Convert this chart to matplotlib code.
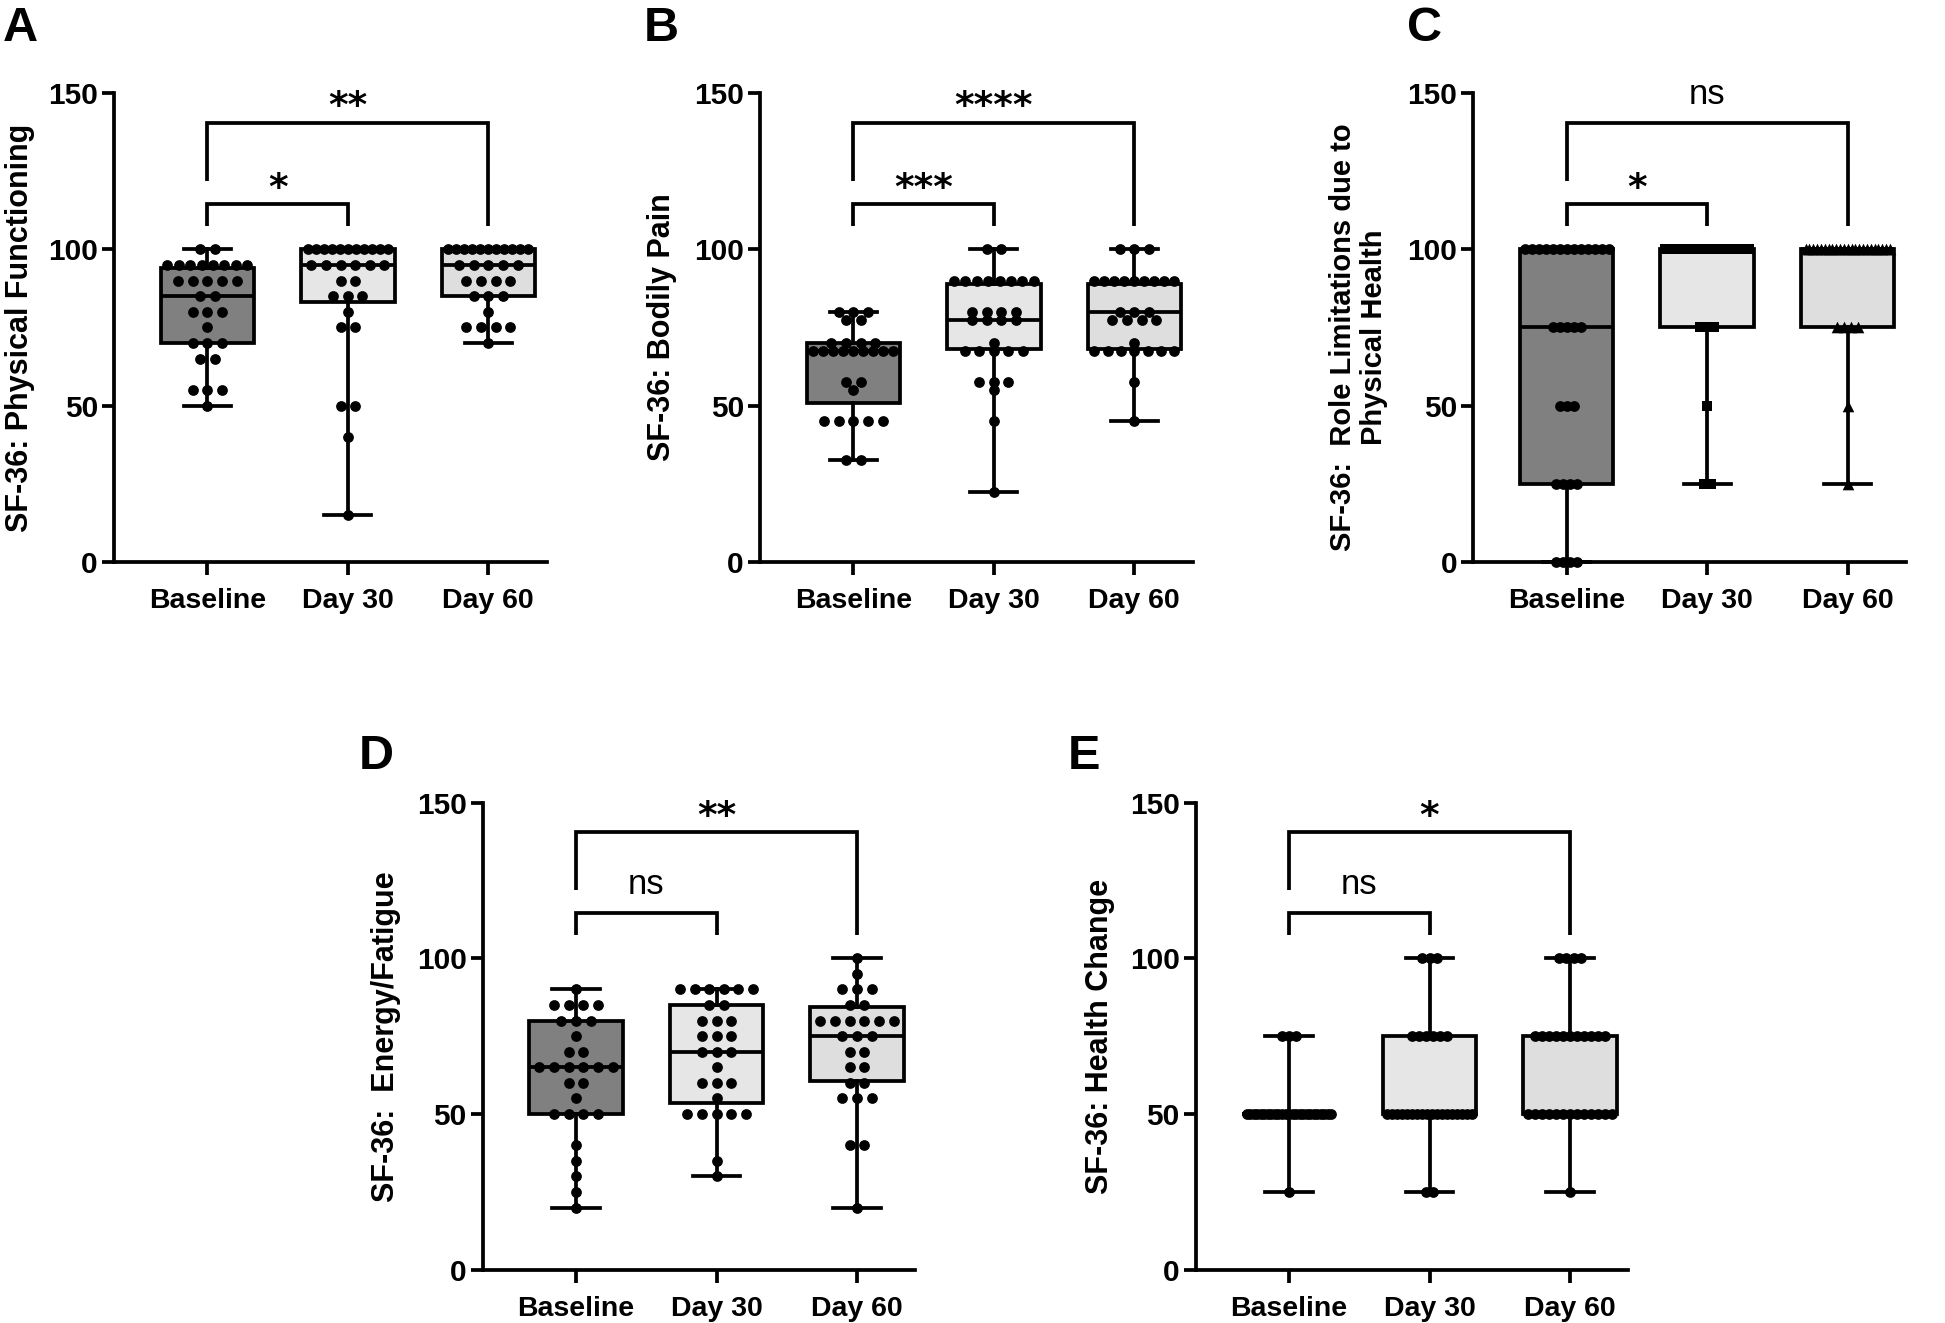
import numpy as np
import matplotlib
matplotlib.use('Agg')
import matplotlib.pyplot as plt

plt.rcParams['font.family'] = ['Liberation Sans', 'DejaVu Sans']

categories = ['Baseline', 'Day 30', 'Day 60']
yticks = [0, 50, 100, 150]
box_colors = ['#808080', '#e6e6e6', '#dedede']

# ---------------- Panel A: Physical Functioning ----------------
A_base_vals = [100, 95, 90, 85, 80, 75, 70, 65, 55, 50]
A_base_counts = [2, 8, 5, 2, 3, 1, 3, 2, 3, 1]
A_d30_vals = [100, 95, 90, 85, 80, 75, 50, 40, 15]
A_d30_counts = [11, 6, 2, 3, 1, 2, 2, 1, 1]
A_d60_vals = [100, 95, 90, 85, 80, 75, 70]
A_d60_counts = [11, 5, 4, 3, 1, 4, 1]
A_median = [85, 95, 95]
A_q1 = [70, 83, 85]
A_q3 = [94, 100, 100]

# ---------------- Panel B: Bodily Pain ----------------
B_base_vals = [80, 77.5, 70, 67.5, 57.5, 55, 45, 32.5]
B_base_counts = [3, 2, 4, 9, 2, 1, 5, 2]
B_d30_vals = [100, 90, 80, 77.5, 70, 67.5, 57.5, 55, 45, 22.5]
B_d30_counts = [2, 8, 4, 4, 1, 5, 3, 1, 1, 1]
B_d60_vals = [100, 90, 80, 77.5, 70, 67.5, 57.5, 45]
B_d60_counts = [3, 9, 3, 4, 1, 7, 1, 1]
B_median = [67.5, 77.5, 80]
B_q1 = [51, 68, 68]
B_q3 = [70, 89, 89]

# ---------------- Panel C: Role Limitations ----------------
C_base_vals = [100, 75, 50, 25, 0]
C_base_counts = [13, 5, 3, 4, 4]
C_d30_vals = [100, 75, 50, 25]
C_d30_counts = [23, 3, 1, 2]
C_d60_vals = [100, 75, 50, 25]
C_d60_counts = [23, 4, 1, 1]
C_median = [75, 100, 100]
C_q1 = [25, 75, 75]
C_q3 = [100, 100, 100]

# ---------------- Panel D: Energy/Fatigue ----------------
D_base_vals = [90, 85, 80, 75, 70, 65, 60, 55, 50, 40, 35, 30, 25, 20]
D_base_counts = [1, 4, 3, 1, 2, 6, 2, 1, 4, 1, 1, 1, 1, 1]
D_d30_vals = [90, 85, 80, 75, 70, 65, 60, 55, 50, 35, 30]
D_d30_counts = [6, 2, 3, 3, 3, 1, 3, 1, 5, 1, 1]
D_d60_vals = [100, 95, 90, 85, 80, 75, 70, 65, 60, 55, 40, 20]
D_d60_counts = [1, 1, 3, 2, 6, 3, 2, 2, 2, 3, 2, 1]
D_median = [65, 70, 75]
D_q1 = [50, 53.5, 60.5]
D_q3 = [80, 85, 84.5]

# ---------------- Panel E: Health Change ----------------
E_base_vals = [75, 50, 25]
E_base_counts = [3, 25, 1]
E_d30_vals = [100, 75, 50, 25]
E_d30_counts = [3, 6, 18, 2]
E_d60_vals = [100, 75, 50, 25]
E_d60_counts = [4, 11, 13, 1]
E_median = [50, 50, 50]
E_q1 = [50, 50, 50]
E_q3 = [50, 75, 75]

panels = [
    dict(letter='A', ylabel='SF-36: Physical Functioning', ylabel_size=22,
         groups=[(A_base_vals, A_base_counts), (A_d30_vals, A_d30_counts), (A_d60_vals, A_d60_counts)],
         med=A_median, q1=A_q1, q3=A_q3, sig=('*', '**'), markers=['o', 'o', 'o'],
         spacing=0.104, maxspan=0.57,
         rect=[113.9, 93.0, 562.0], lab_x=-0.2175, lab_y=0.5, letter_xy=(3, 41)),
    dict(letter='B', ylabel='SF-36: Bodily Pain', ylabel_size=22,
         groups=[(B_base_vals, B_base_counts), (B_d30_vals, B_d30_counts), (B_d60_vals, B_d60_counts)],
         med=B_median, q1=B_q1, q3=B_q3, sig=('***', '****'), markers=['o', 'o', 'o'],
         spacing=0.104, maxspan=0.57,
         rect=[759.9, 93.0, 562.0], lab_x=-0.227, lab_y=0.5, letter_xy=(644, 41)),
    dict(letter='C', ylabel='SF-36:  Role Limitations due to\nPhysical Health', ylabel_size=21,
         groups=[(C_base_vals, C_base_counts), (C_d30_vals, C_d30_counts), (C_d60_vals, C_d60_counts)],
         med=C_median, q1=C_q1, q3=C_q3, sig=('*', 'ns'), markers=['o', 's', '^'],
         spacing=0.05, maxspan=0.60,
         rect=[1473.3, 93.0, 562.0], lab_x=-0.266, lab_y=0.48, letter_xy=(1407, 41)),
    dict(letter='D', ylabel='SF-36:  Energy/Fatigue', ylabel_size=22,
         groups=[(D_base_vals, D_base_counts), (D_d30_vals, D_d30_counts), (D_d60_vals, D_d60_counts)],
         med=D_median, q1=D_q1, q3=D_q3, sig=('ns', '**'), markers=['o', 'o', 'o'],
         spacing=0.104, maxspan=0.57,
         rect=[482.6, 802.6, 1269.8], lab_x=-0.223, lab_y=0.5, letter_xy=(359, 769)),
    dict(letter='E', ylabel='SF-36: Health Change', ylabel_size=22,
         groups=[(E_base_vals, E_base_counts), (E_d30_vals, E_d30_counts), (E_d60_vals, E_d60_counts)],
         med=E_median, q1=E_q1, q3=E_q3, sig=('ns', '*'), markers=['o', 'o', 'o'],
         spacing=0.05, maxspan=0.60,
         rect=[1195.6, 802.6, 1269.8], lab_x=-0.222, lab_y=0.5, letter_xy=(1068, 769)),
]

W, H = 1945, 1323
fig = plt.figure(figsize=(W / 100, H / 100), dpi=100)

LW = 2.7
XMIN, XMAX = -0.665, 2.415
AX_W = 432.7


def swarm(values, counts, center, spacing, maxspan):
    xs, ys = [], []
    for v, k in zip(values, counts):
        sp = spacing if k <= 1 else min(spacing, maxspan / (k - 1))
        offs = (np.arange(k) - (k - 1) / 2.0) * sp
        xs.extend(center + offs)
        ys.extend([v] * k)
    return np.array(xs), np.array(ys)


for p in panels:
    left, top, bottom = p['rect']
    ax = fig.add_axes([left / W, 1 - bottom / H, AX_W / W, (bottom - top) / H])
    positions = np.arange(len(categories))

    stats = []
    for i, (vals, cnts) in enumerate(p['groups']):
        stats.append(dict(med=p['med'][i], q1=p['q1'][i], q3=p['q3'][i],
                          whislo=min(vals), whishi=max(vals), fliers=[]))
    bp = ax.bxp(stats, positions=positions, widths=0.665, capwidths=0.335,
                patch_artist=True, showfliers=False,
                boxprops=dict(linewidth=LW, edgecolor='black'),
                medianprops=dict(color='black', linewidth=LW),
                whiskerprops=dict(color='black', linewidth=LW),
                capprops=dict(color='black', linewidth=LW),
                manage_ticks=False)
    for patch, c in zip(bp['boxes'], box_colors):
        patch.set_facecolor(c)
        patch.set_zorder(2)
    for k in ('medians', 'whiskers', 'caps'):
        for ln in bp[k]:
            ln.set_zorder(2.5)
            ln.set_clip_on(False)

    for i, (vals, cnts) in enumerate(p['groups']):
        xs, ys = swarm(vals, cnts, positions[i], p['spacing'], p['maxspan'])
        mk = p['markers'][i]
        size = {'o': 60, 's': 52, '^': 70}[mk]
        ax.scatter(xs, ys, s=size, marker=mk, color='black', linewidths=0,
                   zorder=4, clip_on=False)

    # significance brackets
    short_lab, long_lab = p['sig']
    ax.plot([0, 0, 1, 1], [107.5, 114.5, 114.5, 107.5], color='black', lw=LW,
            solid_joinstyle='miter', solid_capstyle='butt', clip_on=False, zorder=3)
    ax.plot([0, 0, 2, 2], [121.8, 140.5, 140.5, 107.5], color='black', lw=LW,
            solid_joinstyle='miter', solid_capstyle='butt', clip_on=False, zorder=3)
    for lab, xm, yb in ((short_lab, 0.5, 114.5), (long_lab, 1.0, 140.5)):
        if lab == 'ns':
            ax.text(xm, yb + 6.0, lab, ha='center', va='baseline', fontsize=25,
                    fontweight='normal', clip_on=False)
        else:
            ax.text(xm, yb + 1.7, lab, ha='center', va='baseline', fontsize=27,
                    fontweight='bold', family='DejaVu Sans', clip_on=False)

    ax.set_xlim(XMIN, XMAX)
    ax.set_ylim(0, 150)
    ax.set_yticks(yticks)
    ax.set_yticklabels([str(t) for t in yticks], fontsize=21.5, fontweight='bold')
    ax.set_xticks(positions)
    ax.set_xticklabels(categories, fontsize=20.5, fontweight='bold')
    for s in ('top', 'right'):
        ax.spines[s].set_visible(False)
    for s in ('left', 'bottom'):
        ax.spines[s].set_linewidth(LW)
        ax.spines[s].set_capstyle('projecting')
    ax.tick_params(axis='both', direction='out', length=9, width=LW, color='black')
    ax.tick_params(axis='x', pad=10)
    ax.tick_params(axis='y', pad=2.5)
    ax.set_facecolor('none')

    ax.set_ylabel(p['ylabel'], fontsize=p['ylabel_size'], fontweight='bold',
                  linespacing=1.12)
    ax.yaxis.set_label_coords(p['lab_x'], p['lab_y'])
    ax.yaxis.label.set_va('center')

    lx, ly = p['letter_xy']
    fig.text(lx / W, 1 - ly / H, p['letter'], fontsize=35, fontweight='bold',
             ha='left', va='baseline')

fig.savefig('out.png', dpi=100, facecolor='white')
